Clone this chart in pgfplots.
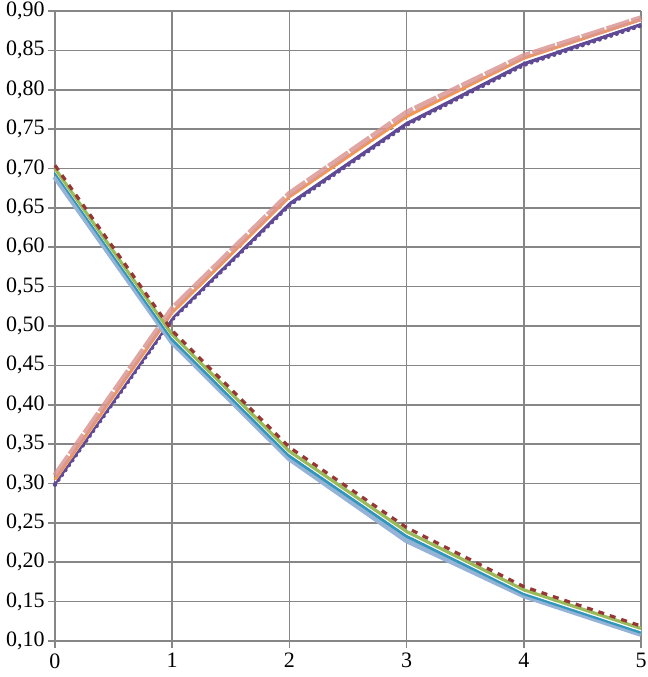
\documentclass[border=0pt]{standalone}
\usepackage{pgfplots}
\pgfplotsset{compat=1.18}
\usepackage{fontspec}
\setmainfont{Liberation Serif}

\definecolor{gridgray}{RGB}{134,134,134}
\definecolor{cpurple}{RGB}{96,74,150}
\definecolor{corange}{RGB}{247,150,70}
\definecolor{cpink}{RGB}{217,150,148}
\definecolor{cdarkred}{RGB}{149,55,53}
\definecolor{cgreen}{RGB}{155,187,89}
\definecolor{cteal}{RGB}{49,150,185}
\definecolor{clightblue}{RGB}{149,179,215}

\begin{document}
\begin{tikzpicture}
\begin{axis}[
    scale only axis,
    width=293pt, height=315pt,
    xmin=0, xmax=5, ymin=0.10, ymax=0.90,
    xtick={0,1,2,3,4,5},
    ytick distance=0.05,
    grid=major,
    major grid style={gridgray, line width=0.8pt},
    axis line style={gridgray, line width=0.8pt},
    axis lines*=left,
    tick align=outside,
    major tick length=3.5pt,
    tick style={gridgray, line width=0.8pt},
    tick label style={font=\fontsize{11}{13}\selectfont, text=black, inner sep=1.5pt},
    x tick label style={yshift=-1pt},
    /pgf/number format/assume math mode=true,
    y tick label style={/pgf/number format/.cd, fixed, fixed zerofill, precision=2, use comma},
    xtick pos=bottom, ytick pos=left,
    clip=false,
]
\coordinate (SW) at (rel axis cs:0,0);
\coordinate (NE) at (rel axis cs:1,1);
% rising group
\addplot[cpurple, line width=1.6pt] coordinates {(0,0.300) (1,0.510) (2,0.655) (3,0.757) (4,0.833) (5,0.883)};
\addplot[cpurple, line width=2.2pt, line cap=round, dash pattern=on 0pt off 3pt, yshift=-0.6pt] coordinates {(0,0.300) (1,0.510) (2,0.655) (3,0.757) (4,0.833) (5,0.883)};
\addplot[white, line width=0.6pt] coordinates {(0,0.303) (1,0.513) (2,0.659) (3,0.761) (4,0.837) (5,0.886)};
\addplot[corange, line width=1.5pt] coordinates {(0,0.305) (1,0.517) (2,0.664) (3,0.766) (4,0.840) (5,0.889)};
\addplot[cpink, line width=2.8pt, opacity=0.85, dash pattern=on 12pt off 1pt] coordinates {(0,0.310) (1,0.522) (2,0.668) (3,0.771) (4,0.843) (5,0.891)};
% falling group
\addplot[clightblue, line width=3pt] coordinates {(0,0.690) (1,0.480) (2,0.332) (3,0.228) (4,0.158) (5,0.109)};
\addplot[cteal, line width=1.5pt] coordinates {(0,0.695) (1,0.483) (2,0.335) (3,0.233) (4,0.160) (5,0.111)};
\addplot[white, line width=0.6pt] coordinates {(0,0.697) (1,0.486) (2,0.338) (3,0.236) (4,0.162) (5,0.113)};
\addplot[cgreen, line width=1.6pt] coordinates {(0,0.700) (1,0.489) (2,0.341) (3,0.239) (4,0.165) (5,0.116)};
\addplot[cdarkred, line width=1.6pt, dash pattern=on 3pt off 3pt, yshift=0.4pt] coordinates {(0,0.703) (1,0.493) (2,0.345) (3,0.243) (4,0.168) (5,0.118)};
\end{axis}
\pgfresetboundingbox
\useasboundingbox ([xshift=-27.5pt,yshift=-18pt]SW) rectangle ([xshift=3pt,yshift=5.5pt]NE);
\end{tikzpicture}
\end{document}
